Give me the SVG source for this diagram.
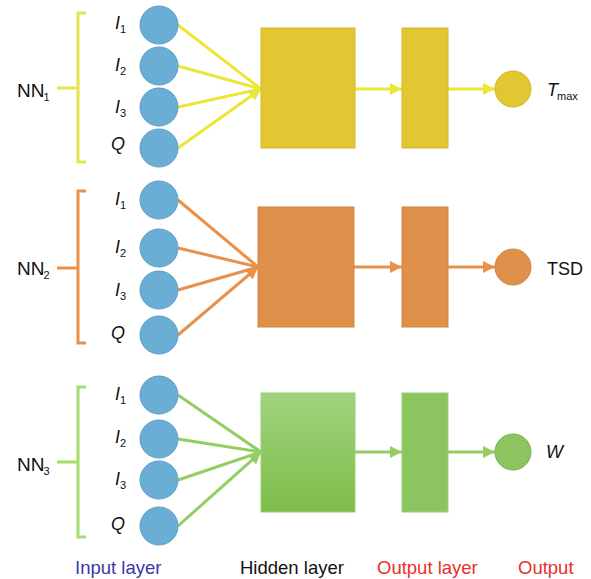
<svg xmlns="http://www.w3.org/2000/svg" width="591" height="579" viewBox="0 0 591 579">
<style>
text{font-family:"Liberation Sans",Arial,sans-serif;fill:#111}
.lbl{font-size:18px}
.nn{font-size:19px}
.it{font-style:italic}
.sub{font-size:11px;font-style:normal}
.in{fill:#6aaed6;stroke:#5b9dc9;stroke-width:1}
.y{stroke:#ebe638;fill:none;stroke-width:3}
.o{stroke:#e8914a;fill:none;stroke-width:3}
.g{stroke:#94cd62;fill:none;stroke-width:3}
.br{fill:none;stroke-width:3}
.axis{font-size:18.5px}
</style>
<defs>
<marker id="ay" viewBox="0 0 10 10" refX="10" refY="5" markerWidth="4" markerHeight="4" orient="auto" markerUnits="strokeWidth"><path d="M0,0L10,5L0,10z" fill="#ebe638"/></marker>
<marker id="ao" viewBox="0 0 10 10" refX="10" refY="5" markerWidth="4" markerHeight="4" orient="auto" markerUnits="strokeWidth"><path d="M0,0L10,5L0,10z" fill="#e8914a"/></marker>
<marker id="ag" viewBox="0 0 10 10" refX="10" refY="5" markerWidth="4" markerHeight="4" orient="auto" markerUnits="strokeWidth"><path d="M0,0L10,5L0,10z" fill="#94cd62"/></marker>
<linearGradient id="gg" x1="0" y1="0" x2="0" y2="1"><stop offset="0" stop-color="#a1d27e"/><stop offset="1" stop-color="#7dbd4a"/></linearGradient>
</defs>

<g id="connectors">
<path class="y" d="M178,25L261,89M178,66L261,89M178,107L261,89M178,148L261,89" marker-end="url(#ay)"/>
<line class="y" x1="355" y1="89" x2="402" y2="89" marker-end="url(#ay)"/>
<line class="y" x1="448" y1="89" x2="495" y2="89" marker-end="url(#ay)"/>
<path class="o" d="M178,200L258,267M178,248L258,267M178,290L258,267M178,335L258,267" marker-end="url(#ao)"/>
<line class="o" x1="354" y1="267" x2="402" y2="267" marker-end="url(#ao)"/>
<line class="o" x1="448" y1="267" x2="495" y2="267" marker-end="url(#ao)"/>
<path class="g" d="M178,395L261,452M178,439L261,452M178,480L261,452M178,526L261,452" marker-end="url(#ag)"/>
<line class="g" x1="355" y1="452" x2="402" y2="452" marker-end="url(#ag)"/>
<line class="g" x1="448" y1="452" x2="495" y2="452" marker-end="url(#ag)"/>
</g>

<g id="nn1">
<path class="br" stroke="#e6e64a" d="M86,13H78V162H86M57,88H78"/>
<text class="nn" x="17" y="97">NN<tspan class="sub" dx="-1" dy="4">1</tspan></text>
<circle class="in" cx="159" cy="25" r="19"/>
<circle class="in" cx="159" cy="66" r="19"/>
<circle class="in" cx="159" cy="107" r="19"/>
<circle class="in" cx="159" cy="148" r="19"/>
<text class="lbl it" x="115" y="29">I<tspan class="sub" dy="4">1</tspan></text>
<text class="lbl it" x="115" y="71">I<tspan class="sub" dy="4">2</tspan></text>
<text class="lbl it" x="115" y="113">I<tspan class="sub" dy="4">3</tspan></text>
<text class="lbl it" x="111" y="150">Q</text>
<rect x="261" y="28" width="94" height="120" fill="#e2c632" stroke="#d6b82a" stroke-width="1"/>
<rect x="402" y="28" width="46" height="120" fill="#e2c632" stroke="#d6b82a" stroke-width="1"/>
<circle cx="513" cy="89" r="18" fill="#e2c632" stroke="#d3b52c" stroke-width="1"/>
<text class="lbl it" x="547" y="96">T<tspan class="sub" dx="-1" dy="4">max</tspan></text>
</g>

<g id="nn2">
<path class="br" stroke="#e8914a" d="M86,191H78V343H86M57,268H78"/>
<text class="nn" x="17" y="275">NN<tspan class="sub" dx="-1" dy="4">2</tspan></text>
<circle class="in" cx="159" cy="200" r="19"/>
<circle class="in" cx="159" cy="248" r="19"/>
<circle class="in" cx="159" cy="290" r="19"/>
<circle class="in" cx="159" cy="335" r="19"/>
<text class="lbl it" x="115" y="205">I<tspan class="sub" dy="4">1</tspan></text>
<text class="lbl it" x="115" y="253">I<tspan class="sub" dy="4">2</tspan></text>
<text class="lbl it" x="115" y="296">I<tspan class="sub" dy="4">3</tspan></text>
<text class="lbl it" x="111" y="339">Q</text>
<rect x="258" y="207" width="96" height="120" fill="#df914b" stroke="#d2843e" stroke-width="1"/>
<rect x="402" y="207" width="46" height="120" fill="#df914b" stroke="#d2843e" stroke-width="1"/>
<circle cx="513" cy="267" r="18" fill="#df914b" stroke="#cf8240" stroke-width="1"/>
<text class="lbl" x="547" y="275">TSD</text>
</g>

<g id="nn3">
<path class="br" stroke="#a6dc6c" d="M86,387H78V537H86M57,462H78"/>
<text class="nn" x="17" y="471">NN<tspan class="sub" dx="-1" dy="4">3</tspan></text>
<circle class="in" cx="159" cy="395" r="19"/>
<circle class="in" cx="159" cy="439" r="19"/>
<circle class="in" cx="159" cy="480" r="19"/>
<circle class="in" cx="159" cy="526" r="19"/>
<text class="lbl it" x="115" y="400">I<tspan class="sub" dy="4">1</tspan></text>
<text class="lbl it" x="115" y="443">I<tspan class="sub" dy="4">2</tspan></text>
<text class="lbl it" x="115" y="485">I<tspan class="sub" dy="4">3</tspan></text>
<text class="lbl it" x="111" y="530">Q</text>
<rect x="261" y="393" width="94" height="119" fill="url(#gg)" stroke="#9bcf77" stroke-width="1"/>
<rect x="402" y="393" width="46" height="119" fill="#8cc560" stroke="#9bcf77" stroke-width="1"/>
<circle cx="513" cy="452" r="18" fill="#8cc560" stroke="#7aae52" stroke-width="1"/>
<text class="lbl it" x="546" y="458">W</text>
</g>

<g id="axis-labels">
<text class="axis" x="75" y="574" style="fill:#3a38a8">Input layer</text>
<text class="axis" x="240" y="574" style="fill:#111">Hidden layer</text>
<text class="axis" x="377" y="574" style="fill:#e8302a">Output layer</text>
<text class="axis" x="518" y="574" style="fill:#e8302a">Output</text>
</g>
</svg>
